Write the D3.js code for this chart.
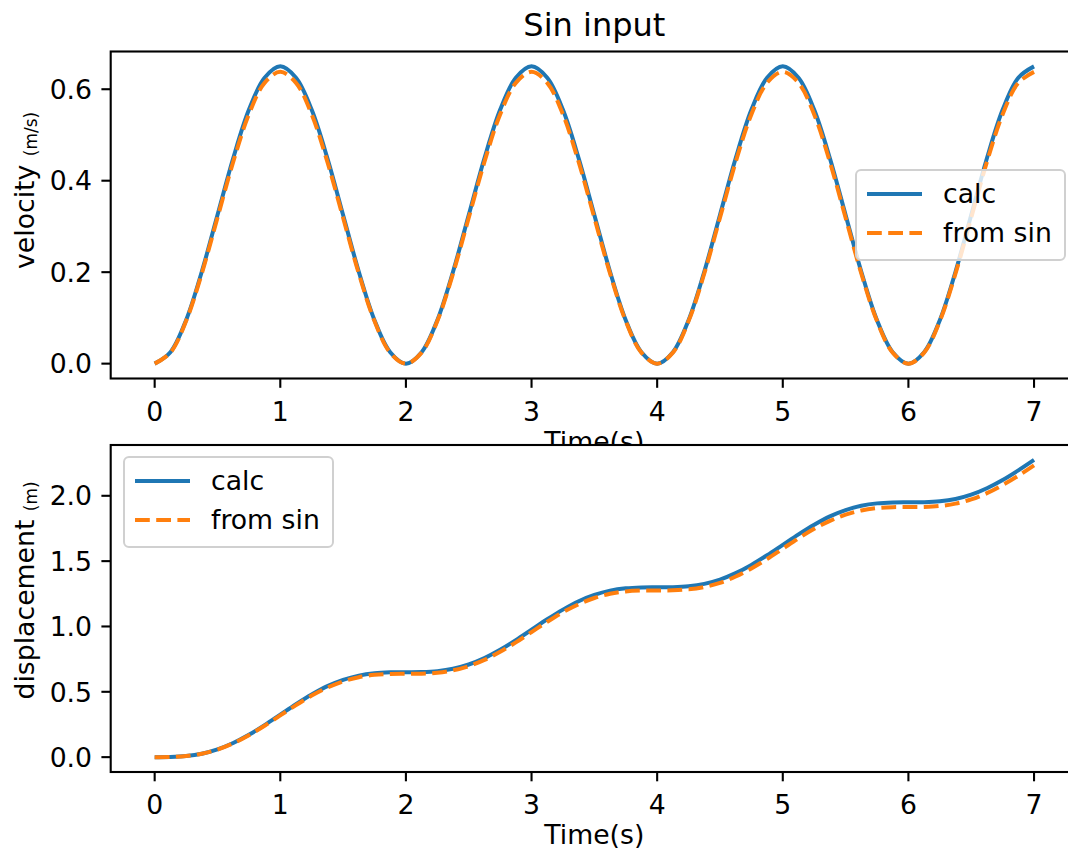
<!DOCTYPE html>
<html><head><meta charset="utf-8">
<script src="https://cdn.jsdelivr.net/npm/d3@7"></script>
<style>
html,body{margin:0;padding:0;background:#fff;}
svg{display:block;font-family:"DejaVu Sans",sans-serif;}
</style></head>
<body>
<svg id="chart" width="1068" height="856"></svg>
<script>
// time samples (s)
const time = [0,0.125,0.25,0.375,0.5,0.625,0.75,0.875,1,1.125,1.25,1.375,1.5,1.625,1.75,1.875,
  2,2.125,2.25,2.375,2.5,2.625,2.75,2.875,3,3.125,3.25,3.375,3.5,3.625,3.75,3.875,
  4,4.125,4.25,4.375,4.5,4.625,4.75,4.875,5,5.125,5.25,5.375,5.5,5.625,5.75,5.875,
  6,6.125,6.25,6.375,6.5,6.625,6.75,6.875,7];
// velocity (m/s)
const velCalc = [0,0.025,0.095,0.201,0.325,0.449,0.555,0.625,0.65,0.625,0.555,0.449,0.325,0.201,0.095,0.025,
  0,0.025,0.095,0.201,0.325,0.449,0.555,0.625,0.65,0.625,0.555,0.449,0.325,0.201,0.095,0.025,
  0,0.025,0.095,0.201,0.325,0.449,0.555,0.625,0.65,0.625,0.555,0.449,0.325,0.201,0.095,0.025,
  0,0.025,0.095,0.201,0.325,0.449,0.555,0.625,0.65];
const velSin = [0,0.024,0.093,0.197,0.319,0.441,0.545,0.614,0.638,0.614,0.545,0.441,0.319,0.197,0.093,0.024,
  0,0.024,0.093,0.197,0.319,0.441,0.545,0.614,0.638,0.614,0.545,0.441,0.319,0.197,0.093,0.024,
  0,0.024,0.093,0.197,0.319,0.441,0.545,0.614,0.638,0.614,0.545,0.441,0.319,0.197,0.093,0.024,
  0,0.024,0.093,0.197,0.319,0.441,0.545,0.614,0.638];
// displacement (m)
const dispCalc = [0,0.001,0.008,0.026,0.059,0.108,0.171,0.245,0.325,0.405,0.479,0.543,0.591,0.624,0.642,0.649,
  0.65,0.651,0.658,0.676,0.709,0.758,0.821,0.895,0.975,1.055,1.129,1.193,1.241,1.274,1.292,1.299,
  1.30,1.301,1.308,1.326,1.359,1.408,1.471,1.545,1.625,1.705,1.779,1.843,1.891,1.924,1.942,1.949,
  1.95,1.951,1.958,1.976,2.009,2.058,2.121,2.195,2.275];
const dispSin = [0,0.001,0.008,0.026,0.058,0.106,0.168,0.240,0.319,0.398,0.471,0.532,0.580,0.612,0.630,0.637,
  0.638,0.639,0.646,0.664,0.696,0.744,0.806,0.878,0.957,1.036,1.109,1.170,1.218,1.250,1.268,1.275,
  1.276,1.277,1.284,1.302,1.334,1.382,1.444,1.516,1.595,1.674,1.747,1.808,1.856,1.888,1.906,1.913,
  1.914,1.915,1.922,1.940,1.972,2.020,2.082,2.154,2.233];
const xTicks = [0,1,2,3,4,5,6,7];
const velTicks = [0.0,0.2,0.4,0.6];
const dispTicks = [0.0,0.5,1.0,1.5,2.0];
const seriesNames = ["calc","from sin"];
const colors = ["#1f77b4","#ff7f0e"];

const svg = d3.select("#chart");
const L = 110.7, R = 1078;
const FS = 26.7;
const TL = 9.3;      // tick length
const LW = 4;        // line width
const DASH = "14.8,6.4";
const x = d3.scaleLinear().domain([-0.35, 7.35]).range([L, R]);

function drawAxes(top, bottom, yDomain, yTicks, yFmt, ylabel, yunit, ys, legendPos, labelStart) {
  const g = svg.append("g");
  const y = d3.scaleLinear().domain(yDomain).range([bottom, top]);
  g.append("rect").attr("x", L).attr("y", top).attr("width", R - L).attr("height", bottom - top).attr("fill", "#fff");
  const line = d3.line().x((d, i) => x(time[i])).y(d => y(d)).curve(d3.curveCatmullRom.alpha(0.5));
  g.append("path").datum(ys[0]).attr("d", line).attr("fill", "none").attr("stroke", colors[0]).attr("stroke-width", LW);
  g.append("path").datum(ys[1]).attr("d", line).attr("fill", "none").attr("stroke", colors[1]).attr("stroke-width", LW).attr("stroke-dasharray", DASH);
  // spines
  g.append("rect").attr("x", L).attr("y", top).attr("width", R - L).attr("height", bottom - top)
    .attr("fill", "none").attr("stroke", "#000").attr("stroke-width", 2.1);
  // x ticks
  xTicks.forEach(t => {
    g.append("line").attr("x1", x(t)).attr("x2", x(t)).attr("y1", bottom).attr("y2", bottom + TL).attr("stroke", "#000").attr("stroke-width", 2.1);
    g.append("text").attr("x", x(t)).attr("y", bottom + 42).attr("text-anchor", "middle").attr("font-size", FS).text(d3.format("d")(t));
  });
  yTicks.forEach(t => {
    g.append("line").attr("x1", L - TL).attr("x2", L).attr("y1", y(t)).attr("y2", y(t)).attr("stroke", "#000").attr("stroke-width", 2.1);
    g.append("text").attr("x", L - 2 * TL).attr("y", y(t) + 9.7).attr("text-anchor", "end").attr("font-size", FS).text(yFmt(t));
  });
  // x label
  g.append("text").attr("x", (L + R) / 2).attr("y", bottom + 72).attr("text-anchor", "middle").attr("font-size", FS).text("Time(s)");
  // y label
  const yl = g.append("text").attr("transform", `translate(34,${labelStart}) rotate(-90)`).attr("text-anchor", "start").attr("font-size", FS);
  yl.append("tspan").text(ylabel + " ");
  yl.append("tspan").attr("font-size", 17).attr("dy", 3).text(yunit);
  // legend
  const lg = g.append("g").attr("transform", `translate(${legendPos[0]},${legendPos[1]})`);
  lg.append("rect").attr("width", 209).attr("height", 90).attr("rx", 5).attr("fill", "rgba(255,255,255,0.8)").attr("stroke", "#d0d0d0").attr("stroke-width", 2);
  seriesNames.forEach((n, i) => {
    const cy = 24 + i * 39;
    const ln = lg.append("line").attr("x1", 11).attr("x2", 66).attr("y1", cy).attr("y2", cy).attr("stroke", colors[i]).attr("stroke-width", LW);
    if (i === 1) ln.attr("stroke-dasharray", DASH);
    lg.append("text").attr("x", 87).attr("y", cy + 9).attr("font-size", FS).text(n);
  });
  return g;
}

const f1 = d => d3.format(".1f")(d);
drawAxes(51.5, 378.5, [-0.0325, 0.6825], velTicks, f1, "velocity", "(m/s)", [velCalc, velSin], [856, 170], 269);
drawAxes(445, 772, [-0.11375, 2.38875], dispTicks, f1, "displacement", "(m)", [dispCalc, dispSin], [124, 457], 699.5);

svg.append("text").attr("x", (L + R) / 2).attr("y", 36).attr("text-anchor", "middle").attr("font-size", 32).text("Sin input");
</script>
</body></html>
